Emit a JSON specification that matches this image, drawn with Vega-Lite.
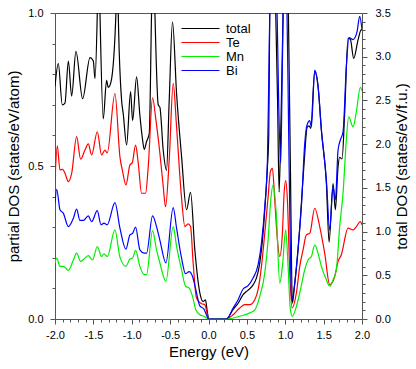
{
 "$schema": "https://vega.github.io/schema/vega-lite/v6.json",
 "width": 307,
 "height": 306,
 "autosize": {"type": "none"},
 "padding": {"left": 55, "top": 13, "right": 54, "bottom": 50},
 "background": "white",
 "config": {
  "font": "Liberation Sans",
  "view": {"stroke": "#555", "strokeWidth": 1},
  "axis": {"grid": false, "domainColor": "#555", "tickColor": "#555", "labelColor": "#000", "labelFontSize": 11, "titleFontSize": 15, "titleFontWeight": "normal", "titleColor": "#000", "labelOverlap": false, "labelFlush": false, "labelBound": false, "tickSize": 5}
 },
 "datasets": {
  "dos": [
   {"s":"Te","E":-2.000,"v":0.449},{"s":"Te","E":-1.970,"v":0.566},{"s":"Te","E":-1.935,"v":0.487},{"s":"Te","E":-1.900,"v":0.489},{"s":"Te","E":-1.870,"v":0.476},{"s":"Te","E":-1.826,"v":0.449},{"s":"Te","E":-1.783,"v":0.476},{"s":"Te","E":-1.718,"v":0.596},{"s":"Te","E":-1.666,"v":0.522},{"s":"Te","E":-1.610,"v":0.552},{"s":"Te","E":-1.566,"v":0.572},{"s":"Te","E":-1.523,"v":0.536},{"s":"Te","E":-1.449,"v":0.612},{"s":"Te","E":-1.393,"v":0.536},{"s":"Te","E":-1.349,"v":0.552},{"s":"Te","E":-1.319,"v":0.543},{"s":"Te","E":-1.219,"v":0.737},{"s":"Te","E":-1.154,"v":0.530},{"s":"Te","E":-1.119,"v":0.482},{"s":"Te","E":-1.076,"v":0.438},{"s":"Te","E":-1.024,"v":0.503},{"s":"Te","E":-0.993,"v":0.511},{"s":"Te","E":-0.950,"v":0.568},{"s":"Te","E":-0.915,"v":0.509},{"s":"Te","E":-0.872,"v":0.411},{"s":"Te","E":-0.820,"v":0.411},{"s":"Te","E":-0.785,"v":0.498},{"s":"Te","E":-0.729,"v":0.723},{"s":"Te","E":-0.685,"v":0.650},{"s":"Te","E":-0.633,"v":0.541},{"s":"Te","E":-0.590,"v":0.433},{"s":"Te","E":-0.560,"v":0.367},{"s":"Te","E":-0.512,"v":0.520},{"s":"Te","E":-0.460,"v":0.770},{"s":"Te","E":-0.416,"v":0.628},{"s":"Te","E":-0.351,"v":0.395},{"s":"Te","E":-0.308,"v":0.302},{"s":"Te","E":-0.265,"v":0.311},{"s":"Te","E":-0.234,"v":0.302},{"s":"Te","E":-0.200,"v":0.183},{"s":"Te","E":-0.156,"v":0.068},{"s":"Te","E":-0.091,"v":0.050},{"s":"Te","E":-0.048,"v":0.047},{"s":"Te","E":0.004,"v":0},{"s":"Te","E":0.234,"v":0},{"s":"Te","E":0.321,"v":0.014},{"s":"Te","E":0.408,"v":0.036},{"s":"Te","E":0.473,"v":0.047},{"s":"Te","E":0.538,"v":0.047},{"s":"Te","E":0.603,"v":0.063},{"s":"Te","E":0.646,"v":0.096},{"s":"Te","E":0.690,"v":0.172},{"s":"Te","E":0.733,"v":0.280},{"s":"Te","E":0.777,"v":0.400},{"s":"Te","E":0.807,"v":0.482},{"s":"Te","E":0.833,"v":0.492},{"s":"Te","E":0.863,"v":0.389},{"s":"Te","E":0.898,"v":0.259},{"s":"Te","E":0.928,"v":0.204},{"s":"Te","E":0.963,"v":0.280},{"s":"Te","E":0.985,"v":0.411},{"s":"Te","E":1.006,"v":0.452},{"s":"Te","E":1.028,"v":0.389},{"s":"Te","E":1.059,"v":0.150},{"s":"Te","E":1.089,"v":0.036},{"s":"Te","E":1.145,"v":0.085},{"s":"Te","E":1.189,"v":0.172},{"s":"Te","E":1.232,"v":0.226},{"s":"Te","E":1.275,"v":0.275},{"s":"Te","E":1.319,"v":0.280},{"s":"Te","E":1.384,"v":0.362},{"s":"Te","E":1.449,"v":0.302},{"s":"Te","E":1.514,"v":0.215},{"s":"Te","E":1.579,"v":0.112},{"s":"Te","E":1.644,"v":0.139},{"s":"Te","E":1.688,"v":0.188},{"s":"Te","E":1.731,"v":0.210},{"s":"Te","E":1.818,"v":0.297},{"s":"Te","E":1.883,"v":0.291},{"s":"Te","E":1.926,"v":0.302},{"s":"Te","E":1.978,"v":0.318},{"s":"Te","E":2.000,"v":0.308},
   {"s":"Mn","E":-2.000,"v":0.183},{"s":"Mn","E":-1.978,"v":0.199},{"s":"Mn","E":-1.935,"v":0.172},{"s":"Mn","E":-1.892,"v":0.172},{"s":"Mn","E":-1.826,"v":0.159},{"s":"Mn","E":-1.761,"v":0.193},{"s":"Mn","E":-1.718,"v":0.215},{"s":"Mn","E":-1.666,"v":0.188},{"s":"Mn","E":-1.610,"v":0.199},{"s":"Mn","E":-1.566,"v":0.207},{"s":"Mn","E":-1.510,"v":0.193},{"s":"Mn","E":-1.449,"v":0.237},{"s":"Mn","E":-1.393,"v":0.204},{"s":"Mn","E":-1.362,"v":0.213},{"s":"Mn","E":-1.319,"v":0.204},{"s":"Mn","E":-1.219,"v":0.291},{"s":"Mn","E":-1.154,"v":0.202},{"s":"Mn","E":-1.076,"v":0.172},{"s":"Mn","E":-1.024,"v":0.196},{"s":"Mn","E":-0.989,"v":0.199},{"s":"Mn","E":-0.950,"v":0.224},{"s":"Mn","E":-0.894,"v":0.172},{"s":"Mn","E":-0.837,"v":0.145},{"s":"Mn","E":-0.807,"v":0.145},{"s":"Mn","E":-0.729,"v":0.289},{"s":"Mn","E":-0.677,"v":0.226},{"s":"Mn","E":-0.633,"v":0.183},{"s":"Mn","E":-0.555,"v":0.123},{"s":"Mn","E":-0.460,"v":0.302},{"s":"Mn","E":-0.416,"v":0.237},{"s":"Mn","E":-0.351,"v":0.161},{"s":"Mn","E":-0.299,"v":0.107},{"s":"Mn","E":-0.252,"v":0.101},{"s":"Mn","E":-0.208,"v":0.074},{"s":"Mn","E":-0.165,"v":0.030},{"s":"Mn","E":-0.113,"v":0.014},{"s":"Mn","E":-0.061,"v":0.009},{"s":"Mn","E":0.004,"v":0},{"s":"Mn","E":0.234,"v":0},{"s":"Mn","E":0.408,"v":0.009},{"s":"Mn","E":0.538,"v":0.020},{"s":"Mn","E":0.603,"v":0.030},{"s":"Mn","E":0.668,"v":0.074},{"s":"Mn","E":0.733,"v":0.150},{"s":"Mn","E":0.777,"v":0.259},{"s":"Mn","E":0.811,"v":0.389},{"s":"Mn","E":0.842,"v":0.438},{"s":"Mn","E":0.885,"v":0.335},{"s":"Mn","E":0.928,"v":0.117},{"s":"Mn","E":0.963,"v":0.172},{"s":"Mn","E":1.006,"v":0.291},{"s":"Mn","E":1.037,"v":0.172},{"s":"Mn","E":1.067,"v":0.030},{"s":"Mn","E":1.093,"v":0.009},{"s":"Mn","E":1.145,"v":0.041},{"s":"Mn","E":1.189,"v":0.085},{"s":"Mn","E":1.254,"v":0.161},{"s":"Mn","E":1.297,"v":0.193},{"s":"Mn","E":1.341,"v":0.204},{"s":"Mn","E":1.384,"v":0.242},{"s":"Mn","E":1.427,"v":0.215},{"s":"Mn","E":1.471,"v":0.172},{"s":"Mn","E":1.536,"v":0.128},{"s":"Mn","E":1.579,"v":0.107},{"s":"Mn","E":1.623,"v":0.128},{"s":"Mn","E":1.666,"v":0.161},{"s":"Mn","E":1.709,"v":0.302},{"s":"Mn","E":1.753,"v":0.411},{"s":"Mn","E":1.796,"v":0.585},{"s":"Mn","E":1.826,"v":0.661},{"s":"Mn","E":1.883,"v":0.628},{"s":"Mn","E":1.926,"v":0.677},{"s":"Mn","E":1.978,"v":0.757},{"s":"Mn","E":2.000,"v":0.746},
   {"s":"Bi","E":-2.000,"v":0.378},{"s":"Bi","E":-1.978,"v":0.424},{"s":"Bi","E":-1.935,"v":0.357},{"s":"Bi","E":-1.892,"v":0.346},{"s":"Bi","E":-1.826,"v":0.302},{"s":"Bi","E":-1.761,"v":0.329},{"s":"Bi","E":-1.718,"v":0.359},{"s":"Bi","E":-1.675,"v":0.322},{"s":"Bi","E":-1.631,"v":0.322},{"s":"Bi","E":-1.566,"v":0.337},{"s":"Bi","E":-1.523,"v":0.318},{"s":"Bi","E":-1.449,"v":0.354},{"s":"Bi","E":-1.401,"v":0.308},{"s":"Bi","E":-1.362,"v":0.313},{"s":"Bi","E":-1.319,"v":0.308},{"s":"Bi","E":-1.219,"v":0.380},{"s":"Bi","E":-1.154,"v":0.297},{"s":"Bi","E":-1.076,"v":0.228},{"s":"Bi","E":-1.024,"v":0.275},{"s":"Bi","E":-0.989,"v":0.280},{"s":"Bi","E":-0.950,"v":0.300},{"s":"Bi","E":-0.894,"v":0.226},{"s":"Bi","E":-0.837,"v":0.215},{"s":"Bi","E":-0.807,"v":0.215},{"s":"Bi","E":-0.729,"v":0.337},{"s":"Bi","E":-0.677,"v":0.302},{"s":"Bi","E":-0.633,"v":0.257},{"s":"Bi","E":-0.555,"v":0.183},{"s":"Bi","E":-0.460,"v":0.364},{"s":"Bi","E":-0.416,"v":0.297},{"s":"Bi","E":-0.351,"v":0.199},{"s":"Bi","E":-0.299,"v":0.148},{"s":"Bi","E":-0.252,"v":0.155},{"s":"Bi","E":-0.208,"v":0.139},{"s":"Bi","E":-0.165,"v":0.096},{"s":"Bi","E":-0.113,"v":0.043},{"s":"Bi","E":-0.061,"v":0.033},{"s":"Bi","E":0.004,"v":0},{"s":"Bi","E":0.234,"v":0},{"s":"Bi","E":0.321,"v":0.036},{"s":"Bi","E":0.386,"v":0.063},{"s":"Bi","E":0.451,"v":0.098},{"s":"Bi","E":0.516,"v":0.109},{"s":"Bi","E":0.581,"v":0.134},{"s":"Bi","E":0.646,"v":0.177},{"s":"Bi","E":0.690,"v":0.248},{"s":"Bi","E":0.733,"v":0.367},{"s":"Bi","E":0.768,"v":0.520},{"s":"Bi","E":0.785,"v":0.78},{"s":"Bi","E":0.798,"v":1.0},{"s":"Bi","E":0.83,"v":1.35},{"s":"Bi","E":0.87,"v":1.15},{"s":"Bi","E":0.894,"v":1.0},{"s":"Bi","E":0.915,"v":0.7},{"s":"Bi","E":0.941,"v":0.509},{"s":"Bi","E":0.958,"v":0.75},{"s":"Bi","E":0.972,"v":1.0},{"s":"Bi","E":0.995,"v":1.3},{"s":"Bi","E":1.02,"v":1.05},{"s":"Bi","E":1.045,"v":0.6},{"s":"Bi","E":1.065,"v":0.25},{"s":"Bi","E":1.082,"v":0.06},{"s":"Bi","E":1.124,"v":0.117},{"s":"Bi","E":1.167,"v":0.232},{"s":"Bi","E":1.210,"v":0.367},{"s":"Bi","E":1.254,"v":0.574},{"s":"Bi","E":1.284,"v":0.634},{"s":"Bi","E":1.319,"v":0.648},{"s":"Bi","E":1.341,"v":0.628},{"s":"Bi","E":1.384,"v":0.813},{"s":"Bi","E":1.427,"v":0.764},{"s":"Bi","E":1.471,"v":0.617},{"s":"Bi","E":1.536,"v":0.454},{"s":"Bi","E":1.579,"v":0.291},{"s":"Bi","E":1.623,"v":0.433},{"s":"Bi","E":1.653,"v":0.389},{"s":"Bi","E":1.688,"v":0.552},{"s":"Bi","E":1.718,"v":0.585},{"s":"Bi","E":1.753,"v":0.612},{"s":"Bi","E":1.796,"v":0.824},{"s":"Bi","E":1.831,"v":0.920},{"s":"Bi","E":1.883,"v":0.913},{"s":"Bi","E":1.935,"v":0.938},{"s":"Bi","E":1.970,"v":0.989},{"s":"Bi","E":2.000,"v":0.946}
  ],
  "tot": [
   {"s":"total","E":-2.000,"v":2.66},{"s":"total","E":-1.957,"v":2.92},{"s":"total","E":-1.905,"v":2.45},{"s":"total","E":-1.870,"v":2.47},{"s":"total","E":-1.826,"v":2.95},{"s":"total","E":-1.783,"v":2.55},{"s":"total","E":-1.727,"v":3.06},{"s":"total","E":-1.640,"v":2.52},{"s":"total","E":-1.544,"v":2.99},{"s":"total","E":-1.501,"v":2.95},{"s":"total","E":-1.479,"v":2.75},{"s":"total","E":-1.449,"v":3.5},{"s":"total","E":-1.432,"v":4.3},{"s":"total","E":-1.414,"v":3.5},{"s":"total","E":-1.371,"v":2.29},{"s":"total","E":-1.328,"v":2.73},{"s":"total","E":-1.306,"v":2.65},{"s":"total","E":-1.271,"v":2.71},{"s":"total","E":-1.206,"v":3.5},{"s":"total","E":-1.19,"v":4.5},{"s":"total","E":-1.176,"v":3.5},{"s":"total","E":-1.132,"v":2.50},{"s":"total","E":-1.111,"v":2.35},{"s":"total","E":-1.067,"v":1.99},{"s":"total","E":-1.015,"v":2.60},{"s":"total","E":-0.989,"v":2.27},{"s":"total","E":-0.937,"v":2.77},{"s":"total","E":-0.894,"v":2.33},{"s":"total","E":-0.859,"v":2.05},{"s":"total","E":-0.837,"v":1.94},{"s":"total","E":-0.807,"v":2.03},{"s":"total","E":-0.772,"v":2.12},{"s":"total","E":-0.742,"v":3.5},{"s":"total","E":-0.72,"v":4.4},{"s":"total","E":-0.698,"v":3.5},{"s":"total","E":-0.655,"v":2.45},{"s":"total","E":-0.633,"v":2.42},{"s":"total","E":-0.590,"v":1.93},{"s":"total","E":-0.547,"v":1.70},{"s":"total","E":-0.512,"v":2.50},{"s":"total","E":-0.469,"v":3.40},{"s":"total","E":-0.416,"v":2.58},{"s":"total","E":-0.351,"v":1.86},{"s":"total","E":-0.286,"v":1.25},{"s":"total","E":-0.234,"v":1.45},{"s":"total","E":-0.178,"v":0.79},{"s":"total","E":-0.113,"v":0.30},{"s":"total","E":-0.069,"v":0.20},{"s":"total","E":-0.039,"v":0.22},{"s":"total","E":-0.017,"v":0.09},{"s":"total","E":0.004,"v":0},{"s":"total","E":0.234,"v":0},{"s":"total","E":0.321,"v":0.11},{"s":"total","E":0.386,"v":0.18},{"s":"total","E":0.451,"v":0.28},{"s":"total","E":0.516,"v":0.33},{"s":"total","E":0.581,"v":0.39},{"s":"total","E":0.625,"v":0.47},{"s":"total","E":0.668,"v":0.64},{"s":"total","E":0.711,"v":0.98},{"s":"total","E":0.742,"v":1.36},{"s":"total","E":0.768,"v":1.74},{"s":"total","E":0.785,"v":2.1},{"s":"total","E":0.798,"v":3.5},{"s":"total","E":0.835,"v":4.6},{"s":"total","E":0.876,"v":3.5},{"s":"total","E":0.90,"v":2.5},{"s":"total","E":0.920,"v":1.45},{"s":"total","E":0.945,"v":2.3},{"s":"total","E":0.972,"v":3.5},{"s":"total","E":1.0,"v":4.6},{"s":"total","E":1.041,"v":3.5},{"s":"total","E":1.067,"v":1.74},{"s":"total","E":1.093,"v":0.18},{"s":"total","E":1.124,"v":0.41},{"s":"total","E":1.167,"v":0.79},{"s":"total","E":1.210,"v":1.32},{"s":"total","E":1.254,"v":1.89},{"s":"total","E":1.284,"v":2.19},{"s":"total","E":1.310,"v":2.21},{"s":"total","E":1.332,"v":2.18},{"s":"total","E":1.384,"v":2.83},{"s":"total","E":1.427,"v":2.66},{"s":"total","E":1.471,"v":2.16},{"s":"total","E":1.536,"v":1.55},{"s":"total","E":1.571,"v":0.88},{"s":"total","E":1.623,"v":1.55},{"s":"total","E":1.653,"v":1.25},{"s":"total","E":1.688,"v":1.74},{"s":"total","E":1.709,"v":1.85},{"s":"total","E":1.740,"v":1.83},{"s":"total","E":1.774,"v":2.35},{"s":"total","E":1.818,"v":3.21},{"s":"total","E":1.848,"v":3.20},{"s":"total","E":1.892,"v":2.98},{"s":"total","E":1.948,"v":3.19},{"s":"total","E":1.991,"v":3.31},{"s":"total","E":2.000,"v":3.30}
  ]
 },
 "encoding": {
  "x": {"field": "E", "type": "quantitative", "scale": {"domain": [-2, 2], "nice": false, "zero": false},
   "axis": {"title": "Energy (eV)", "values": [-2,-1.9,-1.8,-1.7,-1.6,-1.5,-1.4,-1.3,-1.2,-1.1,-1,-0.9,-0.8,-0.7,-0.6,-0.5,-0.4,-0.3,-0.2,-0.1,0,0.1,0.2,0.3,0.4,0.5,0.6,0.7,0.8,0.9,1,1.1,1.2,1.3,1.4,1.5,1.6,1.7,1.8,1.9,2],
    "labelExpr": "abs(datum.value*2-round(datum.value*2))<0.001 ? (datum.value<0 ? '-' : '') + format(abs(datum.value),'.1f') : ''",
    "tickSize": {"condition": {"test": "abs(datum.value*2-round(datum.value*2))<0.001", "value": 5}, "value": 3},
    "labelPadding": 5, "titlePadding": 4}},
  "color": {"field": "s", "type": "nominal",
   "scale": {"domain": ["total", "Te", "Mn", "Bi"], "range": ["#000000", "#ff0000", "#00ee00", "#0000ff"]},
   "legend": {"orient": "none", "legendX": 139, "legendY": 9, "title": null, "symbolType": "M-3.8,0H3.8", "symbolSize": 100, "symbolStrokeWidth": 1.2, "labelFontSize": 13, "labelOffset": 19, "rowPadding": 0, "padding": 0, "labelColor": "#000"}}
 },
 "layer": [
  {
   "data": {"name": "tot"},
   "mark": {"type": "line", "clip": true, "strokeWidth": 1.2, "interpolate": "monotone"},
   "encoding": {
    "y": {"field": "v", "type": "quantitative", "scale": {"domain": [0, 3.5], "nice": false},
     "axis": {"orient": "right", "title": "total DOS (states/eV/f.u.)", "titleAngle": 270, "titleBaseline": "top", "values": [0,0.1,0.2,0.3,0.4,0.5,0.6,0.7,0.8,0.9,1,1.1,1.2,1.3,1.4,1.5,1.6,1.7,1.8,1.9,2,2.1,2.2,2.3,2.4,2.5,2.6,2.7,2.8,2.9,3,3.1,3.2,3.3,3.4,3.5],
      "labelExpr": "abs(datum.value*2-round(datum.value*2))<0.001 ? format(datum.value,'.1f') : ''",
      "tickSize": {"condition": {"test": "abs(datum.value*2-round(datum.value*2))<0.001", "value": 5}, "value": 3},
      "labelPadding": 8, "titlePadding": 4, "labelBaseline": "middle"}}
   }
  },
  {
   "data": {"name": "dos"},
   "mark": {"type": "line", "clip": true, "strokeWidth": 1.2, "interpolate": "monotone"},
   "encoding": {
    "y": {"field": "v", "type": "quantitative", "scale": {"domain": [0, 1], "nice": false},
     "axis": {"orient": "left", "title": "partial DOS (states/eV/atom)", "values": [0,0.1,0.2,0.3,0.4,0.5,0.6,0.7,0.8,0.9,1],
      "labelExpr": "abs(datum.value*2-round(datum.value*2))<0.001 ? format(datum.value,'.1f') : ''",
      "tickSize": {"condition": {"test": "abs(datum.value*2-round(datum.value*2))<0.001", "value": 5}, "value": 3},
      "labelPadding": 7, "titlePadding": 6, "labelBaseline": "middle"}}
   }
  }
 ],
 "resolve": {"scale": {"y": "independent"}}
}
